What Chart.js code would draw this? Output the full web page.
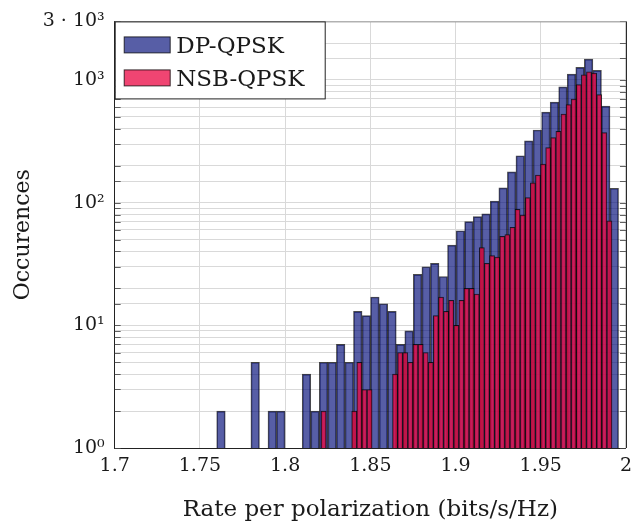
<!DOCTYPE html>
<html>
<head>
<meta charset="utf-8">
<script src="https://cdn.jsdelivr.net/npm/chart.js@4"></script>
<style>
  html, body { margin: 0; padding: 0; background: #fff; }
  canvas { display: block; }
</style>
</head>
<body>
<canvas id="rateHistogram" width="639" height="529"></canvas>
<script>
"use strict";

// Histogram of the rate per polarization.
// Bin centres are in bits/s/Hz, counts are occurences (null = empty bin).
const dpBins = [
    1.76236, 1.76738, 1.77239, 1.77741, 1.78243, 1.78745, 1.79246, 1.79748, 1.80250, 1.80751,
    1.81253, 1.81755, 1.82256, 1.82758, 1.83260, 1.83762, 1.84263, 1.84765, 1.85267, 1.85768,
    1.86270, 1.86772, 1.87273, 1.87775, 1.88277, 1.88779, 1.89280, 1.89782, 1.90284, 1.90785,
    1.91287, 1.91789, 1.92290, 1.92792, 1.93294, 1.93796, 1.94297, 1.94799, 1.95301, 1.95802,
    1.96304, 1.96806, 1.97307, 1.97809, 1.98311, 1.98813, 1.99314
];
const dpCounts = [
    2, null, null, null, 5, null, 2, 2, null, null,
    4, 2, 5, 5, 7, 5, 13, 12, 17, 15,
    13, 7, 9, 26, 30, 32, 25, 45, 59, 70,
    77, 81, 103, 132, 178, 241, 319, 391, 547, 659,
    877, 1116, 1265, 1476, 1196, 612, 131
];

const nsbBins = [
    1.82259, 1.82559, 1.82858, 1.83158, 1.83457, 1.83757, 1.84056, 1.84356, 1.84655, 1.84955,
    1.85254, 1.85554, 1.85853, 1.86153, 1.86452, 1.86752, 1.87051, 1.87351, 1.87650, 1.87950,
    1.88249, 1.88549, 1.88848, 1.89148, 1.89447, 1.89747, 1.90046, 1.90346, 1.90645, 1.90945,
    1.91244, 1.91544, 1.91843, 1.92143, 1.92442, 1.92742, 1.93041, 1.93341, 1.93640, 1.93940,
    1.94239, 1.94539, 1.94838, 1.95138, 1.95437, 1.95737, 1.96036, 1.96336, 1.96635, 1.96935,
    1.97234, 1.97534, 1.97833, 1.98133, 1.98432, 1.98732, 1.99031
];
const nsbCounts = [
    2, null, null, null, null, null, 2, 5, 3, 3,
    null, null, null, null, 4, 6, 6, 5, 7, 7,
    6, 5, 12, 17, 13, 16, 10, 16, 20, 20,
    18, 43, 32, 37, 36, 53, 55, 63, 88, 79,
    110, 145, 168, 206, 281, 339, 381, 527, 630, 697,
    915, 1102, 1165, 1137, 760, 372, 71
];

const xTickValues = [1.7, 1.75, 1.8, 1.85, 1.9, 1.95, 2];
const yTickValues = [1, 10, 100, 1000, 3000];
const yTickLabels = ["10⁰", "10¹", "10²", "10³", "3 · 10³"];

const SERIF = "'DejaVu Serif', 'Liberation Serif', serif";

// Draws the closed frame, the small inner ticks and a boxed legend
const framePlugin = {
    id: "frame",
    afterDraw(chart) {
        const ctx = chart.ctx;
        const area = chart.chartArea;
        const yScale = chart.scales.y;
        ctx.save();

        // short inward ticks on the left and right side
        ctx.strokeStyle = "rgba(70,70,70,0.85)";
        ctx.lineWidth = 1;
        yScale.ticks.forEach(function (tick) {
            const py = Math.round(yScale.getPixelForValue(tick.value)) + 0.5;
            ctx.beginPath();
            ctx.moveTo(area.left, py);
            ctx.lineTo(area.left + 6, py);
            ctx.moveTo(area.right, py);
            ctx.lineTo(area.right - 6, py);
            ctx.stroke();
        });

        // top and right border
        ctx.strokeStyle = "#999";
        ctx.beginPath();
        ctx.moveTo(area.left, area.top + 0.5);
        ctx.lineTo(area.right, area.top + 0.5);
        ctx.stroke();
        ctx.strokeStyle = "#222";
        ctx.beginPath();
        ctx.moveTo(area.right + 0.5, area.top);
        ctx.lineTo(area.right + 0.5, area.bottom);
        ctx.stroke();

        // legend box in the upper left corner
        const boxX = area.left + 0.5;
        const boxY = area.top + 0.5;
        ctx.fillStyle = "#fff";
        ctx.fillRect(boxX, boxY, 210, 77);
        ctx.strokeStyle = "#222";
        ctx.strokeRect(boxX, boxY, 210, 77);

        ctx.font = "23px " + SERIF;
        ctx.textBaseline = "alphabetic";
        chart.data.datasets.forEach(function (ds, i) {
            const sy = boxY + 15 + i * 33;
            ctx.fillStyle = ds.backgroundColor;
            ctx.fillRect(boxX + 9, sy, 46, 16);
            ctx.strokeStyle = "rgba(0,0,0,0.75)";
            ctx.strokeRect(boxX + 9, sy, 46, 16);
            ctx.fillStyle = "#1a1a1a";
            ctx.fillText(ds.label, boxX + 61, sy + 16);
        });

        ctx.restore();
    }
};

function formatX(value) {
    return String(Number(value.toFixed(2)));
}

function formatY(value) {
    const idx = yTickValues.indexOf(value);
    return idx >= 0 ? yTickLabels[idx] : "";
}

const ctx = document.getElementById("rateHistogram");
new Chart(ctx, {
    type: "bar",
    data: {
        datasets: [
            {
                label: "DP-QPSK",
                data: dpBins.map(function (x, i) { return { x: x, y: dpCounts[i] }; }),
                xAxisID: "x",
                order: 1,
                backgroundColor: "rgba(0, 10, 120, 0.66)",
                borderColor: "rgba(0, 0, 0, 0.7)",
                borderWidth: 1,
                barPercentage: 1,
                categoryPercentage: 1,
                grouped: false
            },
            {
                // drawn on top of the blue bars
                label: "NSB-QPSK",
                data: nsbBins.map(function (x, i) { return { x: x, y: nsbCounts[i] }; }),
                xAxisID: "x2",
                order: 0,
                backgroundColor: "rgba(235, 10, 70, 0.76)",
                borderColor: "rgba(0, 0, 0, 0.75)",
                borderWidth: 1,
                barPercentage: 1,
                categoryPercentage: 1,
                grouped: false
            }
        ]
    },
    options: {
        responsive: false,
        animation: false,
        layout: { padding: { top: 17, right: 9, left: 0, bottom: 0 } },
        plugins: {
            legend: { display: false },
            tooltip: { enabled: false }
        },
        scales: {
            x: {
                type: "linear",
                min: 1.7,
                max: 2,
                offset: false,
                afterBuildTicks: function (axis) {
                    axis.ticks = xTickValues.map(function (v) { return { value: v }; });
                },
                afterFit: function (axis) { axis.height = 81; },
                grid: { color: "#d9d9d9", offset: false, drawTicks: false },
                border: { color: "#222" },
                ticks: {
                    font: { family: SERIF, size: 19 },
                    color: "#1a1a1a",
                    padding: 7,
                    autoSkip: false,
                    maxRotation: 0,
                    callback: formatX
                },
                title: {
                    display: true,
                    text: "Rate per polarization (bits/s/Hz)",
                    font: { family: SERIF, size: 23 },
                    color: "#1a1a1a",
                    padding: { top: 0, bottom: 5 }
                }
            },
            x2: {
                type: "linear",
                display: false,
                min: 1.7,
                max: 2,
                offset: false,
                grid: { offset: false }
            },
            y: {
                type: "logarithmic",
                min: 1,
                max: 3000,
                stacked: false,
                afterFit: function (axis) { axis.width = 114.7; },
                grid: { color: "#d9d9d9", drawTicks: false },
                border: { color: "#222" },
                ticks: {
                    font: { family: SERIF, size: 19 },
                    color: "#1a1a1a",
                    padding: 10,
                    autoSkip: false,
                    callback: formatY
                },
                title: {
                    display: true,
                    text: "Occurences",
                    font: { family: SERIF, size: 22 },
                    color: "#1a1a1a",
                    padding: { top: 10, bottom: 0 }
                }
            }
        }
    },
    plugins: [framePlugin]
});
</script>
</body>
</html>
